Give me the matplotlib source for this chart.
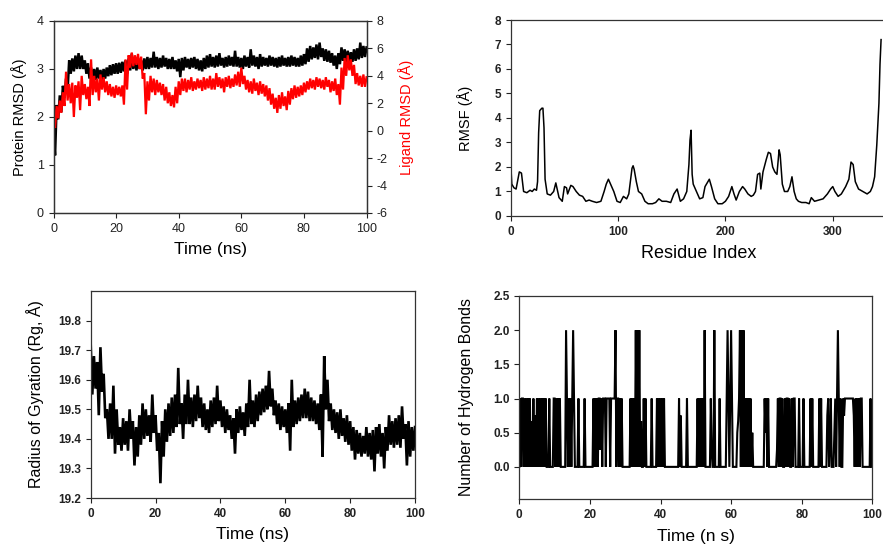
import numpy as np
import matplotlib
matplotlib.use('Agg')
import matplotlib.pyplot as plt

plt.rcParams['font.family'] = ['Liberation Sans', 'DejaVu Sans']
plt.rcParams['axes.unicode_minus'] = False

# ---- Protein / ligand RMSD (upper and lower extent of the noisy trace, every 1 ns)
rmsd_time = list(range(0, 101))
prot_hi = [1.70, 2.25, 2.45, 2.65, 2.80, 3.18, 3.22, 3.28, 3.33, 3.28,
           3.18, 3.12, 3.03, 3.00, 3.03, 2.98, 3.00, 3.03, 3.08, 3.10,
           3.12, 3.13, 3.15, 3.18, 3.22, 3.32, 3.22, 3.23, 3.18, 3.22,
           3.25, 3.23, 3.36, 3.25, 3.23, 3.28, 3.23, 3.21, 3.25, 3.18,
           3.21, 3.23, 3.25, 3.21, 3.23, 3.25, 3.21, 3.18, 3.23, 3.28,
           3.31, 3.25, 3.28, 3.33, 3.23, 3.25, 3.28, 3.25, 3.38, 3.25,
           3.23, 3.28, 3.25, 3.41, 3.28, 3.25, 3.31, 3.25, 3.23, 3.28,
           3.25, 3.23, 3.25, 3.28, 3.23, 3.25, 3.28, 3.25, 3.23, 3.28,
           3.31, 3.43, 3.48, 3.45, 3.51, 3.55, 3.43, 3.41, 3.38, 3.33,
           3.28, 3.33, 3.45, 3.41, 3.38, 3.35, 3.41, 3.43, 3.55, 3.48,
           3.45]
prot_lo = [1.20, 1.95, 2.10, 2.40, 2.55, 2.90, 2.95, 3.00, 3.00, 3.00,
           2.90, 2.80, 2.80, 2.77, 2.80, 2.77, 2.80, 2.85, 2.87, 2.90,
           2.90, 2.92, 2.95, 2.90, 2.97, 3.00, 2.97, 3.00, 2.97, 3.00,
           3.00, 3.03, 3.03, 3.00, 3.03, 3.05, 3.00, 3.00, 3.00, 2.95,
           2.83, 2.97, 3.03, 3.00, 3.03, 3.00, 2.97, 2.95, 3.00, 3.03,
           3.05, 3.03, 3.05, 3.07, 3.03, 3.05, 3.07, 3.05, 3.05, 3.03,
           3.00, 3.05, 3.03, 3.07, 3.05, 3.00, 3.05, 3.07, 3.05, 3.07,
           3.05, 3.03, 3.05, 3.07, 3.05, 3.05, 3.07, 3.05, 3.05, 3.07,
           3.10, 3.15, 3.20, 3.23, 3.20, 3.25, 3.17, 3.15, 3.13, 3.07,
           3.00, 3.10, 3.17, 3.15, 3.13, 3.15, 3.17, 3.20, 3.23, 3.25,
           3.25]
lig_hi = [0.8, 1.8, 2.2, 2.8, 4.3, 3.4, 3.5, 3.3, 3.6, 4.0,
          3.4, 3.2, 5.2, 4.0, 3.8, 4.1, 3.9, 3.6, 3.4, 3.2,
          3.3, 3.2, 3.3, 5.2, 5.5, 5.7, 5.5, 5.6, 5.4, 4.2,
          3.6, 4.0, 3.8, 3.7, 3.5, 3.4, 3.2, 2.8, 2.6, 3.2,
          3.6, 3.8, 3.8, 3.7, 3.9, 3.6, 3.8, 3.7, 3.9, 3.8,
          4.0, 3.8, 4.2, 3.9, 3.8, 3.9, 4.0, 3.8, 4.1, 4.3,
          4.6, 4.0, 3.7, 3.6, 3.8, 3.5, 3.6, 3.4, 3.3, 3.1,
          2.7, 2.4, 2.6, 2.8, 2.5, 2.9, 3.1, 3.3, 3.2, 3.3,
          3.5, 3.6, 3.8, 3.7, 3.9, 3.8, 3.7, 3.9, 3.7, 3.6,
          3.8, 3.4, 4.6, 5.3, 5.5, 5.2, 4.8, 4.2, 4.0, 4.1,
          3.9]
lig_lo = [0.2, 0.9, 1.3, 1.8, 2.2, 2.0, 1.0, 2.4, 1.5, 2.6,
          2.3, 1.8, 2.6, 2.8, 2.2, 3.0, 2.8, 2.6, 2.5, 2.4,
          2.6, 2.5, 1.9, 3.0, 4.6, 4.7, 4.8, 4.5, 3.8, 1.2,
          2.2, 2.8, 2.6, 2.8, 2.6, 2.2, 2.0, 1.8, 1.7, 2.0,
          2.6, 2.9, 2.8, 3.0, 2.9, 3.0, 3.1, 2.9, 3.0, 3.1,
          3.0, 3.0, 3.2, 3.1, 2.8, 3.2, 3.1, 3.2, 3.3, 3.2,
          3.4, 3.0, 2.8, 2.7, 2.9, 2.6, 2.7, 2.5, 2.2, 1.9,
          1.6, 1.3, 1.6, 1.8, 1.5, 1.9, 2.3, 2.4, 2.5, 2.6,
          2.8, 3.0, 3.1, 3.0, 3.2, 3.1, 3.0, 3.2, 2.8, 2.9,
          2.6, 1.9, 3.0, 4.0, 4.4, 4.0, 3.4, 3.3, 3.2, 3.2,
          3.1]

# ---- RMSF per residue
rmsf_res = [0, 1, 3, 5, 8, 10, 12, 15, 18, 20, 22, 24, 25, 26, 27, 29, 30, 31, 32, 34,
            37, 40, 42, 45, 48, 50, 52, 53, 56, 58, 61, 64, 67, 70, 73, 76, 80, 84, 87, 89,
            91, 93, 96, 99, 102, 105, 108, 110, 113, 114, 115, 117, 119, 122, 125, 128, 132, 135, 138, 141,
            145, 149, 152, 155, 158, 161, 164, 166, 167, 168, 169, 170, 173, 176, 179, 181, 183, 185, 187, 190,
            193, 197, 200, 203, 206, 208, 210, 213, 216, 218, 221, 224, 226, 228, 230, 232, 233, 235, 238, 240,
            242, 244, 246, 248, 250, 251, 253, 255, 258, 260, 262, 264, 266, 268, 271, 275, 278, 280, 283, 287,
            291, 295, 298, 300, 302, 305, 308, 312, 315, 317, 319, 321, 324, 328, 332, 335, 337, 339, 341, 343,
            344, 345]
rmsf_val = [2.15, 1.3, 1.15, 1.1, 1.8, 1.75, 1.0, 0.95, 1.05, 1.0, 1.1, 1.05, 1.4, 3.4, 4.3, 4.4, 4.4, 3.6, 1.5, 0.9,
            0.85, 1.0, 1.35, 0.75, 0.6, 1.2, 1.15, 0.9, 1.25, 1.2, 1.0, 0.85, 0.8, 0.6, 0.65, 0.6, 0.55, 0.6, 1.0, 1.3,
            1.5, 1.3, 1.0, 0.6, 0.55, 0.8, 0.7, 0.9, 1.95, 2.05, 1.9, 1.4, 1.0, 0.9, 0.6, 0.5, 0.5, 0.55, 0.7, 0.6,
            0.6, 0.55, 0.9, 1.1, 0.6, 0.7, 1.0, 2.1, 3.1, 3.5, 1.7, 1.3, 1.0, 0.7, 0.75, 1.2, 1.35, 1.5, 1.2, 0.7,
            0.5, 0.5, 0.6, 0.8, 1.2, 0.9, 0.65, 1.0, 1.2, 1.1, 0.9, 0.8, 0.85, 1.0, 1.7, 1.75, 1.1, 1.8, 2.3, 2.6,
            2.55, 2.0, 1.8, 1.7, 2.7, 2.5, 1.3, 1.0, 1.0, 1.2, 1.6, 1.0, 0.7, 0.6, 0.55, 0.55, 0.5, 0.75, 0.6, 0.65,
            0.7, 0.9, 1.1, 1.2, 1.0, 0.8, 0.9, 1.2, 1.5, 2.2, 2.1, 1.4, 1.1, 1.0, 0.9, 1.0, 1.2, 1.6, 2.9, 4.6,
            6.2, 7.2]

# ---- Radius of gyration (upper and lower extent, every 1 ns)
rg_time = list(range(0, 101))
rg_hi = [19.72, 19.68, 19.66, 19.71, 19.62, 19.50, 19.52, 19.58, 19.50, 19.44,
         19.47, 19.46, 19.50, 19.46, 19.44, 19.48, 19.52, 19.50, 19.48, 19.55,
         19.48, 19.42, 19.46, 19.50, 19.52, 19.54, 19.55, 19.64, 19.52, 19.55,
         19.60, 19.54, 19.55, 19.58, 19.54, 19.52, 19.50, 19.53, 19.54, 19.58,
         19.53, 19.51, 19.50, 19.48, 19.47, 19.50, 19.51, 19.49, 19.52, 19.60,
         19.53, 19.55, 19.56, 19.57, 19.58, 19.63, 19.57, 19.53, 19.52, 19.51,
         19.50, 19.52, 19.60, 19.53, 19.54, 19.55, 19.57, 19.56, 19.54, 19.53,
         19.52, 19.55, 19.68, 19.60, 19.52, 19.50, 19.49, 19.50, 19.47, 19.48,
         19.46, 19.44, 19.43, 19.42, 19.41, 19.44, 19.42, 19.43, 19.44, 19.45,
         19.42, 19.44, 19.48, 19.46, 19.47, 19.48, 19.51, 19.45, 19.46, 19.44,
         19.44]
rg_lo = [19.55, 19.57, 19.48, 19.56, 19.47, 19.40, 19.40, 19.35, 19.38, 19.36,
         19.38, 19.36, 19.40, 19.31, 19.34, 19.38, 19.40, 19.41, 19.39, 19.42,
         19.36, 19.25, 19.34, 19.39, 19.41, 19.42, 19.44, 19.45, 19.40, 19.45,
         19.45, 19.44, 19.46, 19.47, 19.44, 19.43, 19.42, 19.44, 19.45, 19.46,
         19.44, 19.42, 19.43, 19.40, 19.35, 19.42, 19.43, 19.41, 19.44, 19.45,
         19.44, 19.46, 19.48, 19.49, 19.50, 19.51, 19.48, 19.45, 19.43, 19.44,
         19.42, 19.36, 19.44, 19.45, 19.46, 19.47, 19.47, 19.46, 19.46, 19.45,
         19.43, 19.34, 19.50, 19.46, 19.43, 19.42, 19.40, 19.41, 19.39, 19.38,
         19.36, 19.33, 19.35, 19.34, 19.35, 19.34, 19.33, 19.29, 19.35, 19.34,
         19.30, 19.36, 19.38, 19.37, 19.38, 19.37, 19.40, 19.31, 19.34, 19.36,
         19.39]

# ---- Hydrogen bonds, one character every 0.25 ns
hb_codes = {'0': 0.0, '1': 1.0, '2': 2.0, 'q': 0.25, 's': 0.33,
            'h': 0.5, 't': 0.67, 'u': 0.75}
hb_string = ("0101" "1010" "1010" "10t0" "10u0" "1010" "1010" "1010" "0010" "0001"
             "1010" "1010" "0000" "0210" "1010" "1210" "0001" "0000" "0010" "0000"
             "0000" "1010" "1011" "q101" "1101" "1110" "1111" "1201" "1010" "1000"
             "0000" "0010" "1010" "2020" "20t0" "0101" "0000" "0010" "0000" "1010"
             "1010" "1000" "0000" "0000" "0000" "010u" "0000" "0010" "0000" "0000"
             "0010" "1010" "1020" "0000" "01q0" "0200" "0001" "0000" "0001" "2101"
             "2100" "000h" "t120" "2020" "1010" "1010" "h000" "0000" "0000" "001h"
             "1010" "0000" "0000" "q101" "1010" "0101" "1010" "0101" "1000" "0100"
             "0010" "0000" "0010" "1000" "0000" "1010" "0000" "0u10" "s100" "0h10"
             "1210" "1001" "u111" "1111" "111u" "0101" "0101" "1000" "0000" "0010"
             "0")
hb_step = 0.25


def band(time, hi, lo):
    # trace alternates between the upper and lower extents
    t, v = [], []
    for i in range(len(time)):
        t += [time[i], time[i] + 0.5]
        v += [hi[i], lo[i]]
    return t[:-1], v[:-1]


fig = plt.figure(figsize=(8.83, 5.45), dpi=100)

tick_kw = dict(direction='out', length=3.5, width=0.8, colors='#222222')


def style(ax, bold=False, size=8):
    for s in ax.spines.values():
        s.set_linewidth(0.9)
        s.set_color('#333333')
    ax.tick_params(labelsize=size, **tick_kw)
    if bold:
        for lab in ax.get_xticklabels() + ax.get_yticklabels():
            lab.set_fontweight('bold')


# Top left: RMSD
ax1 = fig.add_axes([0.0606, 0.6092, 0.3545, 0.3523])
t, v = band(rmsd_time, prot_hi, prot_lo)
ax1.plot(t, v, color='black', lw=1.8, solid_joinstyle='miter')
ax1.set_xlim(0, 100)
ax1.set_ylim(0, 4)
ax1.set_xticks([0, 20, 40, 60, 80, 100])
ax1.set_yticks([0, 1, 2, 3, 4])
ax1.set_xlabel('Time (ns)', fontsize=12.5)
ax1.set_ylabel('Protein RMSD (Å)', fontsize=10.5)
ax1.xaxis.set_label_coords(0.5, -0.15)
ax1.yaxis.set_label_coords(-0.086, 0.5)
style(ax1, size=9)

ax1r = ax1.twinx()
t, v = band(rmsd_time, lig_hi, lig_lo)
ax1r.plot(t, v, color='#ff0000', lw=1.6, solid_joinstyle='miter')
ax1r.set_ylim(-6, 8)
ax1r.set_yticks([-6, -4, -2, 0, 2, 4, 6, 8])
ax1r.set_ylabel('Ligand RMSD (Å)', color='#ff0000', fontsize=10.5)
ax1r.yaxis.set_label_coords(1.10, 0.5)
style(ax1r, size=9)

# Top right: RMSF
ax2 = fig.add_axes([0.5784, 0.6037, 0.4255, 0.3596])
ax2.plot(rmsf_res, rmsf_val, color='black', lw=1.1)
ax2.set_xlim(0, 350)
ax2.set_ylim(0, 8)
ax2.set_xticks([0, 100, 200, 300])
ax2.set_yticks(range(0, 9))
ax2.set_xlabel('Residue Index', fontsize=13)
ax2.set_ylabel('RMSF (Å)', fontsize=10.5)
ax2.xaxis.set_label_coords(0.5, -0.15)
ax2.yaxis.set_label_coords(-0.10, 0.5)
style(ax2, bold=True, size=8.5)

# Bottom left: radius of gyration
ax3 = fig.add_axes([0.1027, 0.0862, 0.3673, 0.3798])
t, v = band(rg_time, rg_hi, rg_lo)
ax3.plot(t, v, color='black', lw=1.9, solid_joinstyle='miter')
ax3.set_xlim(0, 100)
ax3.set_ylim(19.2, 19.9)
ax3.set_xticks([0, 20, 40, 60, 80, 100])
ax3.set_yticks([19.2, 19.3, 19.4, 19.5, 19.6, 19.7, 19.8])
ax3.set_yticklabels(['19.2', '19.3', '19.4', '19.5', '19.6', '19.7', '19.8'])
ax3.set_xlabel('Time (ns)', fontsize=12.5)
ax3.set_ylabel('Radius of Gyration (Rg, Å)', fontsize=11.5)
ax3.xaxis.set_label_coords(0.5, -0.14)
ax3.yaxis.set_label_coords(-0.145, 0.5)
style(ax3, bold=True, size=8.5)

# Bottom right: hydrogen bonds
hb_val = [hb_codes[c] for c in hb_string]
hb_time = np.arange(len(hb_val)) * hb_step
ax4 = fig.add_axes([0.5881, 0.0844, 0.3998, 0.3725])
ax4.plot(hb_time, hb_val, color='black', lw=1.5, solid_joinstyle='miter')
ax4.set_xlim(0, 100)
ax4.set_ylim(-0.47, 2.5)
ax4.set_xticks([0, 20, 40, 60, 80, 100])
ax4.set_yticks([0.0, 0.5, 1.0, 1.5, 2.0, 2.5])
ax4.set_yticklabels(['0.0', '0.5', '1.0', '1.5', '2.0', '2.5'])
ax4.set_xlabel('Time (n s)', fontsize=12.5)
ax4.set_ylabel('Number of Hydrogen Bonds', fontsize=11.5)
ax4.xaxis.set_label_coords(0.5, -0.15)
ax4.yaxis.set_label_coords(-0.128, 0.5)
style(ax4, bold=True, size=8.5)

fig.savefig('out.png', dpi=100)
